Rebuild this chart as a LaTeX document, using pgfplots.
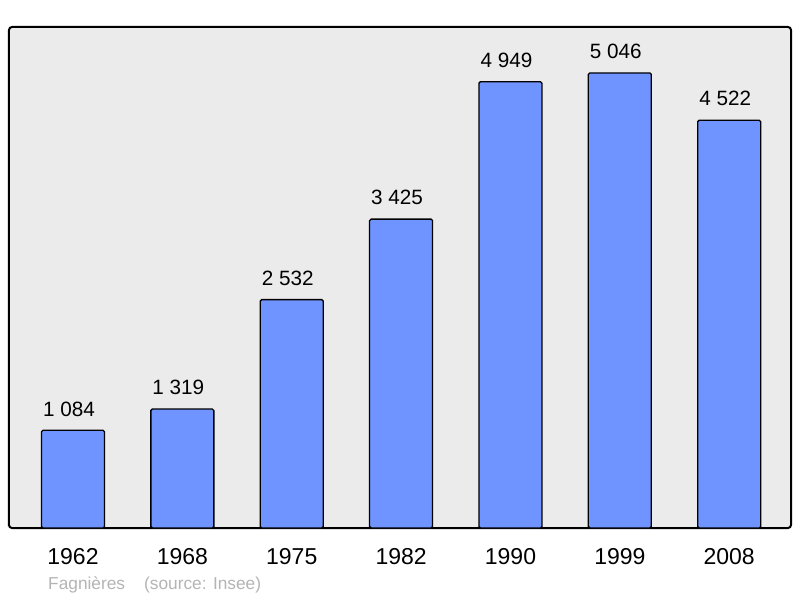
\documentclass[border=0pt]{standalone}
\usepackage{pgfplots}
\pgfplotsset{compat=1.18}
\usepackage{fontspec}
\setmainfont{Liberation Sans}
\definecolor{barblue}{HTML}{7094FF}
\definecolor{panel}{HTML}{EBEBEB}
\definecolor{foot}{HTML}{B4B4B4}
\begin{document}
\begin{tikzpicture}
\path[use as bounding box] (0,0) rectangle (800pt,598pt);
\begin{axis}[
    at={(9pt,70pt)}, anchor=south west,
    scale only axis,
    width=782pt, height=501pt,
    xmin=-0.585, xmax=6.565,
    ymin=0, ymax=5555,
    xtick=data,
    xticklabels={1962,1968,1975,1982,1990,1999,2008},
    ytick=\empty,
    major tick length=0pt,
    xticklabel style={font=\fontsize{23}{27}\selectfont, yshift=-17pt},
    axis background/.style={fill=panel},
    axis line style={line width=2pt, rounded corners=3pt},
    ybar, bar width=63pt,
    nodes near coords={\pgfmathprintnumber[1000 sep={\ }, assume math mode=true]{\pgfplotspointmeta}},
    every node near coord/.append style={font=\fontsize{20.7}{24}\selectfont, black, yshift=10pt, xshift=-4pt},
]
\addplot[fill=barblue, draw=black, line width=1.3pt, rounded corners=1.5pt] coordinates {
    (0,1084) (1,1319) (2,2532) (3,3425) (4,4949) (5,5046) (6,4522)
};
\end{axis}
\node[anchor=base west, text=foot, font=\fontsize{17.3}{20}\selectfont, inner sep=0pt] at (48pt,9pt) {Fagnières\hspace{19pt}(source: Insee)};
\end{tikzpicture}
\end{document}
